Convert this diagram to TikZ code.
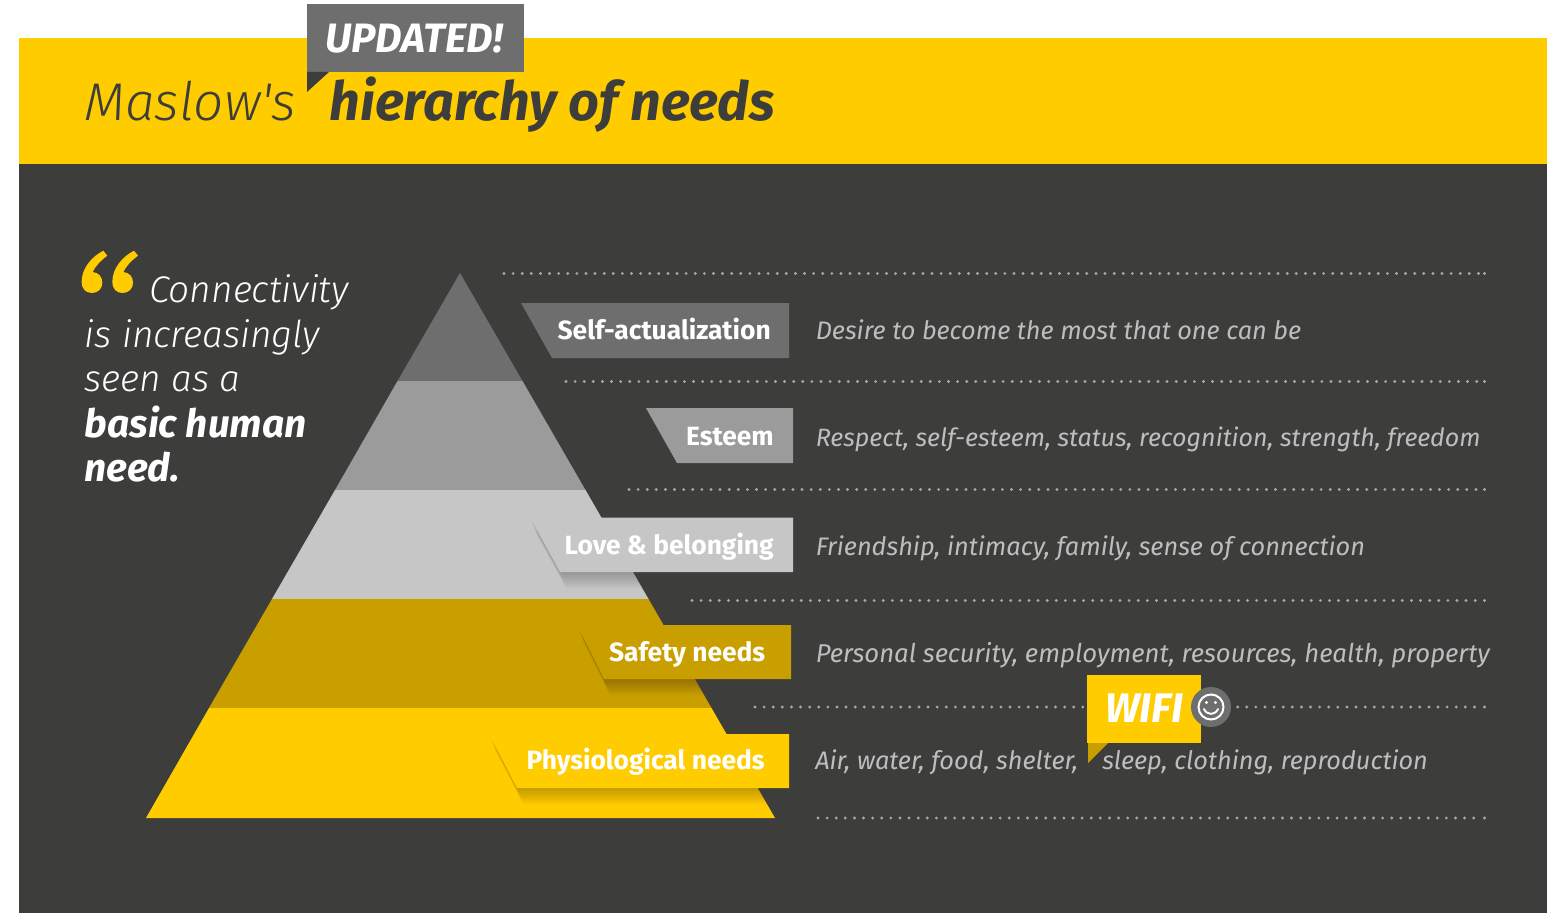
\documentclass[tikz,border=0pt]{standalone}
\usepackage{fontspec}
\usetikzlibrary{calc}
\setmainfont{Fira Sans}
\newfontfamily\lightf{Fira Sans Light}
\newcommand{\fs}[1]{\fontsize{#1}{#1}\selectfont}
\definecolor{dark}{HTML}{3D3D3C}
\definecolor{yel}{HTML}{FFCC00}
\definecolor{gold}{HTML}{C99F00}
\definecolor{g1}{HTML}{6E6E6E}
\definecolor{g2}{HTML}{9B9B9B}
\definecolor{g3}{HTML}{C6C6C6}
\definecolor{desc}{HTML}{BEBEBE}
\definecolor{dotc}{HTML}{A8A8A8}
\tikzset{
  x=0.75pt,y=-0.75pt,
  dots/.style={line width=2.4pt,line cap=round,dash pattern=on 0pt off 6.83pt,color=dotc},
  lab/.style={anchor=base east,text=white,font=\bfseries\fs{19.8},inner sep=0pt},
  dsc/.style={anchor=base west,text=desc,font=\itshape\fs{19},inner sep=0pt},
  quot/.style={anchor=base west,text=white,font=\lightf\itshape\fs{27.8},inner sep=0pt},
  quotb/.style={anchor=base west,text=white,font=\bfseries\itshape\fs{29.2},inner sep=0pt},
}
% #1 top-left x, #2 bottom-left x, #3 right x, #4 top y, #5 bottom y
\newcommand{\shad}[5]{%
  \foreach \i in {1,...,15}{\fill[black,opacity=0.014]
    ($(#1,#4)+(\i*0.42,\i*1.1)$) -- ($(#3,#4)+(\i*0.42,\i*1.1)$) -- ($(#3,#5)+(\i*0.42,\i*1.1)$) -- ($(#2,#5)+(\i*0.42,\i*1.1)$) -- cycle;}}
\newcommand{\qmark}[1]{%
  \fill[yel,shift={(#1,230)},scale=0.3333]
    (130,62) .. controls (95,80) and (65,115) .. (65,155)
    .. controls (65,178) and (78,189) .. (96,189)
    .. controls (114,189) and (127,176) .. (127,158)
    .. controls (127,140) and (116,128) .. (98,126)
    .. controls (107,107) and (124,90) .. (142,77) -- cycle;}
\begin{document}
\begin{tikzpicture}
\useasboundingbox (0,0) rectangle (1548,913);
\fill[white] (0,0) rectangle (1548,913);
\fill[yel] (19,38) rectangle (1547,164);
\fill[dark] (19,164) rectangle (1547,913);
% header
\node[anchor=base west,text=dark,font=\lightf\itshape\fs{39.8},inner sep=0pt] (maslow) at (84,121) {Maslow's};
\node[anchor=base west,text=dark,font=\bfseries\itshape\fs{40.4},inner sep=0pt] (hier) at (329.5,121) {hierarchy of needs};
\fill[g1] (307,4) rectangle (524,72);
\fill[dark] (307,72) -- (329,72) -- (307,92) -- cycle;
\node[anchor=base west,text=white,font=\bfseries\itshape\fs{30.8},inner sep=0pt] (upd) at (325,52.5) {UPDATED!};
% dotted
\foreach \yy/\xx in {273.5/504,381.5/566,489.5/629,600.5/692,707/755,818/818}{
  \draw[dots] (\xx,\yy) -- (1482,\yy);
  \fill[dotc] (1484.5,\yy) circle[radius=1.6];}
% pyramid
\fill[g1] (460,273) -- (522.5,381) -- (397.5,381) -- cycle;
\fill[g2] (397.5,381) -- (522.5,381) -- (585.5,490) -- (335,490) -- cycle;
\fill[g3] (335,490) -- (585.5,490) -- (648.5,599) -- (272,599) -- cycle;
\fill[gold] (272,599) -- (648.5,599) -- (711.5,708) -- (209,708) -- cycle;
\fill[yel] (209,708) -- (711.5,708) -- (775,818) -- (146,818) -- cycle;
% shadows on the pyramid
\begin{scope}
\clip (460,273) -- (775,818) -- (146,818) -- cycle;
\shad{530}{560}{793}{517.5}{572}
\shad{577}{604}{791}{625}{679}
\shad{489}{517}{789}{734}{788}
\end{scope}
% labels
\fill[g1] (521,303) -- (789,303) -- (789,358) -- (552,358) -- cycle;
\fill[g2] (646,408) -- (793,408) -- (793,463) -- (677,463) -- cycle;
\fill[g3] (530,517.5) -- (793,517.5) -- (793,572) -- (560,572) -- cycle;
\fill[gold] (577,625) -- (791,625) -- (791,679) -- (604,679) -- cycle;
\fill[yel] (489,734) -- (789,734) -- (789,788) -- (517,788) -- cycle;
\node[lab] (l1) at (771,339.5) {Self-actualization};
\node[lab] (l2) at (774,445) {Esteem};
\node[lab] (l3) at (774,554) {Love \& belonging};
\node[lab] (l4) at (765.5,661) {Safety needs};
\node[lab] (l5) at (765,769.5) {Physiological needs};
% descriptions
\node[dsc] (d1) at (815.5,339) {Desire to become the most that one can be};
\node[dsc,font=\itshape\fs{18.8}] (d2) at (815.5,446) {Respect, self-esteem, status, recognition, strength, freedom};
\node[dsc] (d3) at (815.5,555) {Friendship, intimacy, family, sense of connection};
\node[dsc,font=\itshape\fs{19.3}] (d4) at (815.5,662) {Personal security, employment, resources, health, property};
\node[dsc] (d5a) at (815,769) {Air, water, food, shelter,};
\node[dsc] (d5b) at (1102,769) {sleep, clothing, reproduction};
% wifi
\fill[yel] (1087,675) rectangle (1201,743);
\fill[gold] (1088,743) -- (1108,743) -- (1088,763) -- cycle;
\node[anchor=base west,text=white,font=\bfseries\itshape\fs{31},inner sep=0pt] (wifi) at (1105,722) {WIFI};
\fill[g1] (1211,707) circle[radius=20];
\draw[white,line width=1.5pt] (1211,707) circle[radius=12.5];
\fill[white] (1206.5,702.5) circle[radius=1.7] (1215.5,702.5) circle[radius=1.7];
\draw[white,line width=1.4pt,line cap=round] (1204,709) .. controls (1207,715.5) and (1215,715.5) .. (1218,709);
% quote
\qmark{60}
\qmark{90.7}
\node[quot] (q1) at (149,302) {Connectivity};
\node[quot] (q2) at (84.5,347) {is increasingly};
\node[quot] (q3) at (84.5,391) {seen as a};
\node[quotb] (q4) at (84.5,437) {basic human};
\node[quotb] (q5) at (84.5,481) {need.};
\end{tikzpicture}
\end{document}
